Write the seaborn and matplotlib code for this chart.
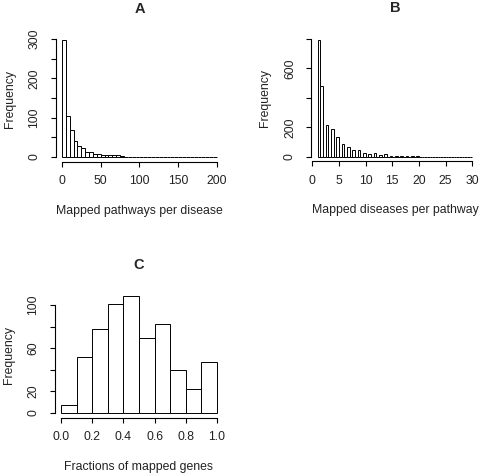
import numpy as np
import pandas as pd
import matplotlib
matplotlib.use("Agg")
import matplotlib.pyplot as plt
import seaborn as sns

# data
# A: mapped pathways per disease, bins of width 5 from 0 to 200
a_edges = np.arange(0, 205, 5)
a_counts = [297, 105, 68, 41, 28, 24, 13, 13, 8, 8,
            4, 4, 6, 4, 4, 2, 0, 0, 0, 1,
            0, 0, 0, 0, 0, 0, 0, 0, 0, 0,
            0, 0, 0, 0, 0, 0, 0, 0, 0, 1]

# B: mapped diseases per pathway, one count per integer value 1..30
b_values = np.arange(1, 31)
b_counts = [792, 482, 217, 186, 136, 86, 66, 48, 43, 22,
            18, 22, 12, 20, 6, 5, 4, 3, 3, 2,
            1, 0, 1, 1, 1, 0, 1, 1, 0, 1]
b_edges = np.arange(1, 30.5, 0.5)

# C: fractions of mapped genes, bins of width 0.1
c_edges = np.linspace(0, 1, 11)
c_counts = [7, 52, 78, 101, 108, 69, 82, 40, 22, 47]

titles = ["A", "B", "C"]
xlabels = ["Mapped pathways per disease", "Mapped diseases per pathway",
           "Fractions of mapped genes"]

sns.set_style("white")
plt.rcParams["font.family"] = ["Liberation Sans", "DejaVu Sans"]
plt.rcParams["font.size"] = 8.8

W, H = 481, 476
fig = plt.figure(figsize=(W / 100, H / 100), dpi=100)


def add_axes_px(left, top, right, bottom):
    return fig.add_axes([left / W, 1 - bottom / H, (right - left) / W, (bottom - top) / H])


def r_style(ax, xticks, yticks, ylabels, xr, yr, title, xlabel, box):
    left, top, right, bottom = box
    ax.set_xlim(xr[0] - 0.04 * (xr[1] - xr[0]), xr[1] + 0.04 * (xr[1] - xr[0]))
    ax.set_ylim(-0.04 * yr, 1.04 * yr)
    for s in ["top", "right"]:
        ax.spines[s].set_visible(False)
    for s in ["left", "bottom"]:
        ax.spines[s].set_color("black")
        ax.spines[s].set_linewidth(0.8)
    ax.spines["bottom"].set_bounds(xticks[0], xticks[-1])
    ax.spines["left"].set_bounds(yticks[0], yticks[-1])
    ax.set_xticks(xticks)
    ax.set_xticklabels([f"{t:g}" if isinstance(t, (int, np.integer)) else f"{t:.1f}" for t in xticks])
    ax.set_yticks(yticks)
    ax.set_yticklabels(ylabels, rotation=90, va="center")
    ax.tick_params(axis="both", direction="out", length=3.6, width=0.8,
                   color="black", labelsize=8.8, labelcolor="#222222",
                   bottom=True, left=True)
    ax.tick_params(axis="x", pad=6)
    ax.tick_params(axis="y", pad=7.5)
    ax.set_title(title, fontsize=10.5, fontweight="bold", pad=16.5)
    hgt = bottom - top
    wid = right - left
    ax.set_xlabel(xlabel, fontsize=8.8, color="#222222")
    ax.xaxis.set_label_coords(0.5, -43 / hgt)
    ax.set_ylabel("Frequency", fontsize=8.8, color="#222222")
    ax.yaxis.set_label_coords(-40 / wid, 0.5)
    ax.grid(False)


def hist(ax, centers, counts, edges):
    df = pd.DataFrame({"x": centers, "n": counts})
    sns.histplot(data=df, x="x", weights="n", bins=list(edges), ax=ax,
                 color="white", alpha=1, edgecolor="black", linewidth=0.7)


# A
box_a = (55.8, 35.6, 223.2, 161.7)
ax_a = add_axes_px(*box_a)
hist(ax_a, (a_edges[:-1] + a_edges[1:]) / 2, a_counts, a_edges)
r_style(ax_a, list(range(0, 201, 50)), list(range(0, 301, 50)),
        ["0", "", "100", "", "200", "", "300"], (0, 200), max(a_counts),
        titles[0], xlabels[0], box_a)

# B
box_b = (311.4, 35.4, 478.4, 161.4)
ax_b = add_axes_px(*box_b)
b_centers = np.where(b_values == 1, 1.25, b_values - 0.25)
hist(ax_b, b_centers, b_counts, b_edges)
r_style(ax_b, list(range(0, 31, 5)), list(range(0, 801, 200)),
        ["0", "200", "", "600", ""], (1, 30), max(b_counts),
        titles[1], xlabels[1], box_b)

# C
box_c = (54.8, 291.7, 223.2, 417.7)
ax_c = add_axes_px(*box_c)
hist(ax_c, (c_edges[:-1] + c_edges[1:]) / 2, c_counts, c_edges)
r_style(ax_c, [0.0, 0.2, 0.4, 0.6, 0.8, 1.0], list(range(0, 101, 20)),
        ["0", "20", "", "60", "", "100"], (0, 1), max(c_counts),
        titles[2], xlabels[2], box_c)

fig.savefig("out.png", dpi=100, facecolor="white")
